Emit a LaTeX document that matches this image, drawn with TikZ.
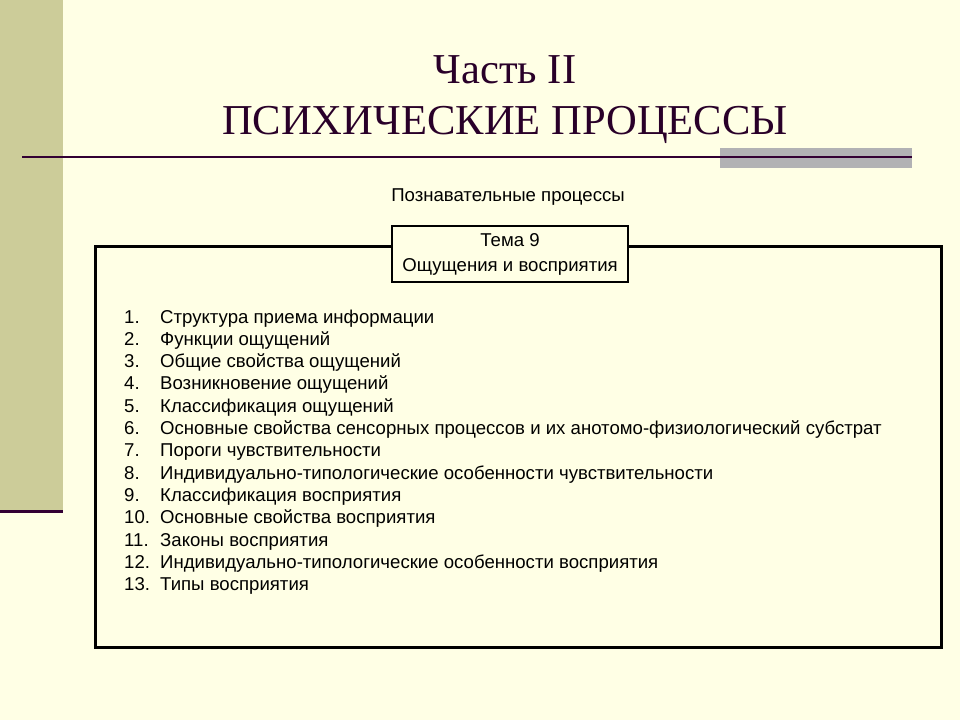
\documentclass[tikz,border=0pt]{standalone}
\usepackage{fontspec}
\setmainfont{Liberation Serif}
\setsansfont{Liberation Sans}
\usepackage{tikz}
\definecolor{cream}{RGB}{255,255,229}
\definecolor{khaki}{RGB}{204,204,153}
\definecolor{plum}{RGB}{51,0,51}
\definecolor{steel}{RGB}{178,178,180}

\begin{document}
\begin{tikzpicture}[x=1pt,y=-1pt]
\tikzstyle{every node}=[inner sep=0pt];
\tikzstyle{title}=[text=plum!80!black,font=\fontsize{42.6}{46}\selectfont];
\tikzstyle{item}=[anchor=base west,font=\sffamily\fontsize{18.6}{22}\selectfont];
\useasboundingbox (0,0) rectangle (960,720);
\fill[cream] (0,0) rectangle (960,720);
\fill[khaki] (0,0) rectangle (63,511);
\draw[plum,line width=3] (0,511) -- (63,511);
\fill[steel] (720,148) rectangle (912,168);
\draw[plum,line width=2] (22,157) -- (912,157);
\node[title,anchor=base] (part) at (505,83) {Часть II};
\node[title,anchor=base] (psych) at (505,134) {ПСИХИЧЕСКИЕ ПРОЦЕССЫ};
\node[anchor=base,font=\sffamily\fontsize{18.6}{22}\selectfont] (cogn) at (508,201) {Познавательные процессы};
\draw[line width=3] (95,246) rectangle (941,647);
\node[draw,line width=2,fill=cream,minimum width=236,minimum height=56,
  align=center,font=\sffamily\fontsize{18.6}{25}\selectfont] (topic) at (510,254)
  {Тема 9\\Ощущения и восприятия};
\foreach \n/\t in {1/Структура приема информации,
  2/Функции ощущений,
  3/Общие свойства ощущений,
  4/Возникновение ощущений,
  5/Классификация ощущений,
  6/Основные свойства сенсорных процессов и их анотомо-физиологический субстрат,
  7/Пороги чувствительности,
  8/Индивидуально-типологические особенности чувствительности,
  9/Классификация восприятия,
  10/Основные свойства восприятия,
  11/Законы восприятия,
  12/Индивидуально-типологические особенности восприятия,
  13/Типы восприятия}
{
  \node[item] (num\n) at (124,{323+22.33*(\n-1)}) {\n.};
  \node[item] (item\n) at (160,{323+22.33*(\n-1)}) {\t};
}
\end{tikzpicture}
\end{document}
